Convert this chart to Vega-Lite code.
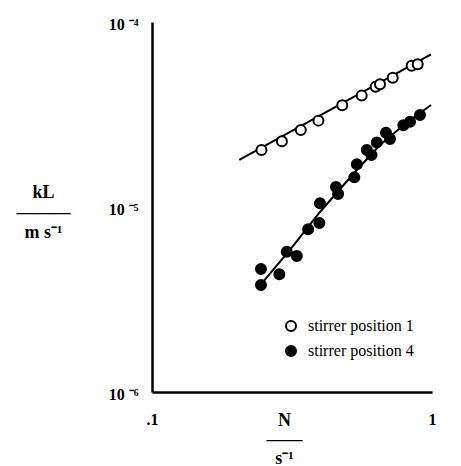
{
  "$schema": "https://vega.github.io/schema/vega-lite/v6.json",
  "width": 280,
  "height": 370,
  "autosize": {"type": "none"},
  "padding": {"left": 152, "top": 22, "right": 29, "bottom": 74},
  "background": "white",
  "config": {
    "view": {"stroke": null},
    "axis": {
      "grid": false,
      "ticks": false,
      "domainColor": "black",
      "domainWidth": 2.5,
      "labelColor": "black",
      "titleColor": "black",
      "labelFont": "Liberation Serif",
      "titleFont": "Liberation Serif",
      "labelFontWeight": "bold",
      "titleFontWeight": "bold",
      "labelFontSize": 16,
      "titleFontSize": 18
    },
    "axisX": {"labelPadding": 19},
    "axisY": {"labelPadding": 14},
    "legend": {
      "labelFont": "Liberation Serif",
      "labelFontSize": 16,
      "labelColor": "black",
      "symbolSize": 100,
      "symbolStrokeWidth": 2,
      "symbolStrokeColor": "black",
      "labelOffset": 9,
      "rowPadding": 7
    }
  },
  "datasets": {
    "points": [
      {"N": 0.246, "kL": 2.03e-5, "series": "stirrer position 1"},
      {"N": 0.291, "kL": 2.27e-5, "series": "stirrer position 1"},
      {"N": 0.340, "kL": 2.61e-5, "series": "stirrer position 1"},
      {"N": 0.393, "kL": 2.93e-5, "series": "stirrer position 1"},
      {"N": 0.478, "kL": 3.55e-5, "series": "stirrer position 1"},
      {"N": 0.561, "kL": 4.00e-5, "series": "stirrer position 1"},
      {"N": 0.629, "kL": 4.47e-5, "series": "stirrer position 1"},
      {"N": 0.652, "kL": 4.61e-5, "series": "stirrer position 1"},
      {"N": 0.724, "kL": 5.00e-5, "series": "stirrer position 1"},
      {"N": 0.846, "kL": 5.80e-5, "series": "stirrer position 1"},
      {"N": 0.889, "kL": 5.91e-5, "series": "stirrer position 1"},
      {"N": 0.245, "kL": 4.62e-6, "series": "stirrer position 4"},
      {"N": 0.245, "kL": 3.79e-6, "series": "stirrer position 4"},
      {"N": 0.285, "kL": 4.33e-6, "series": "stirrer position 4"},
      {"N": 0.303, "kL": 5.73e-6, "series": "stirrer position 4"},
      {"N": 0.329, "kL": 5.43e-6, "series": "stirrer position 4"},
      {"N": 0.361, "kL": 7.58e-6, "series": "stirrer position 4"},
      {"N": 0.396, "kL": 8.19e-6, "series": "stirrer position 4"},
      {"N": 0.398, "kL": 1.047e-5, "series": "stirrer position 4"},
      {"N": 0.454, "kL": 1.282e-5, "series": "stirrer position 4"},
      {"N": 0.462, "kL": 1.175e-5, "series": "stirrer position 4"},
      {"N": 0.528, "kL": 1.446e-5, "series": "stirrer position 4"},
      {"N": 0.539, "kL": 1.70e-5, "series": "stirrer position 4"},
      {"N": 0.585, "kL": 2.03e-5, "series": "stirrer position 4"},
      {"N": 0.608, "kL": 1.91e-5, "series": "stirrer position 4"},
      {"N": 0.635, "kL": 2.23e-5, "series": "stirrer position 4"},
      {"N": 0.685, "kL": 2.52e-5, "series": "stirrer position 4"},
      {"N": 0.708, "kL": 2.33e-5, "series": "stirrer position 4"},
      {"N": 0.790, "kL": 2.77e-5, "series": "stirrer position 4"},
      {"N": 0.835, "kL": 2.89e-5, "series": "stirrer position 4"},
      {"N": 0.906, "kL": 3.14e-5, "series": "stirrer position 4"}
    ],
    "fits": [
      {"N": 0.205, "kL": 1.795e-5, "series": "stirrer position 1"},
      {"N": 0.992, "kL": 6.69e-5, "series": "stirrer position 1"},
      {"N": 0.239, "kL": 3.65e-6, "series": "stirrer position 4"},
      {"N": 0.311, "kL": 5.86e-6, "series": "stirrer position 4"},
      {"N": 0.398, "kL": 9.40e-6, "series": "stirrer position 4"},
      {"N": 0.531, "kL": 1.546e-5, "series": "stirrer position 4"},
      {"N": 0.652, "kL": 2.163e-5, "series": "stirrer position 4"},
      {"N": 0.801, "kL": 2.81e-5, "series": "stirrer position 4"},
      {"N": 0.992, "kL": 3.56e-5, "series": "stirrer position 4"}
    ],
    "yMajorTicks": [{"v": 1e-6}, {"v": 1e-5}, {"v": 1e-4}],
    "yMinorTicks": [
      {"v": 2e-6}, {"v": 3e-6}, {"v": 4e-6}, {"v": 5e-6}, {"v": 6e-6}, {"v": 7e-6}, {"v": 8e-6}, {"v": 9e-6},
      {"v": 2e-5}, {"v": 3e-5}, {"v": 4e-5}, {"v": 5e-5}, {"v": 6e-5}, {"v": 7e-5}, {"v": 8e-5}, {"v": 9e-5}
    ],
    "xTicks": [{"v": 0.1}, {"v": 0.2}, {"v": 0.3}, {"v": 0.4}, {"v": 0.5}, {"v": 0.6}, {"v": 0.7}, {"v": 0.8}, {"v": 0.9}, {"v": 1}]
  },
  "encoding": {
    "x": {
      "field": "N",
      "type": "quantitative",
      "scale": {"type": "log", "domain": [0.1, 1], "nice": false},
      "axis": {
        "values": [0.1, 1],
        "labelExpr": "datum.value < 0.15 ? '.1' : '1'",
        "labelFlush": false,
        "title": ["N", "——", "s⁻¹"],
        "titleLineHeight": 19,
        "titleX": 132,
        "titleY": 33,
        "titleAlign": "center",
        "titleBaseline": "alphabetic"
      }
    },
    "y": {
      "field": "kL",
      "type": "quantitative",
      "scale": {"type": "log", "domain": [1e-6, 1e-4], "nice": false},
      "axis": {
        "values": [1e-6, 1e-5, 1e-4],
        "labelExpr": "abs(log(datum.value)/LN10 + 4) < 0.01 ? '10 ⁻⁴' : (abs(log(datum.value)/LN10 + 5) < 0.01 ? '10 ⁻⁵' : '10 ⁻⁶')",
        "labelFlush": false,
        "labelOffset": 2,
        "title": ["kL", "———", "m s⁻¹"],
        "titleLineHeight": 20,
        "titleAngle": 0,
        "titleX": -109,
        "titleY": 175,
        "titleAlign": "center",
        "titleBaseline": "alphabetic"
      }
    }
  },
  "layer": [
    {
      "data": {"name": "yMajorTicks"},
      "mark": {"type": "rule", "color": "black", "strokeWidth": 2.5, "clip": false},
      "encoding": {
        "x": {"datum": 0.1},
        "x2": {"datum": 0.0921},
        "y": {"field": "v", "type": "quantitative"}
      }
    },
    {
      "data": {"name": "yMinorTicks"},
      "mark": {"type": "rule", "color": "black", "strokeWidth": 2, "clip": false},
      "encoding": {
        "x": {"datum": 0.1},
        "x2": {"datum": 0.0952},
        "y": {"field": "v", "type": "quantitative"}
      }
    },
    {
      "data": {"name": "xTicks"},
      "mark": {"type": "rule", "color": "black", "strokeWidth": 2, "clip": false},
      "encoding": {
        "x": {"field": "v", "type": "quantitative"},
        "y": {"datum": 1e-6},
        "y2": {"datum": 9.28e-7}
      }
    },
    {
      "data": {"name": "fits"},
      "mark": {"type": "line", "color": "black", "strokeWidth": 2},
      "encoding": {"detail": {"field": "series"}}
    },
    {
      "data": {"name": "points"},
      "mark": {"type": "circle", "size": 100, "stroke": "black", "strokeWidth": 2, "opacity": 1},
      "encoding": {
        "fill": {
          "field": "series",
          "type": "nominal",
          "scale": {"domain": ["stirrer position 1", "stirrer position 4"], "range": ["white", "black"]},
          "legend": {
            "orient": "none",
            "legendX": 131,
            "legendY": 296,
            "title": null,
            "symbolType": "circle",
            "labelFont": "Liberation Serif",
            "labelFontSize": 16
          }
        }
      }
    }
  ]
}
